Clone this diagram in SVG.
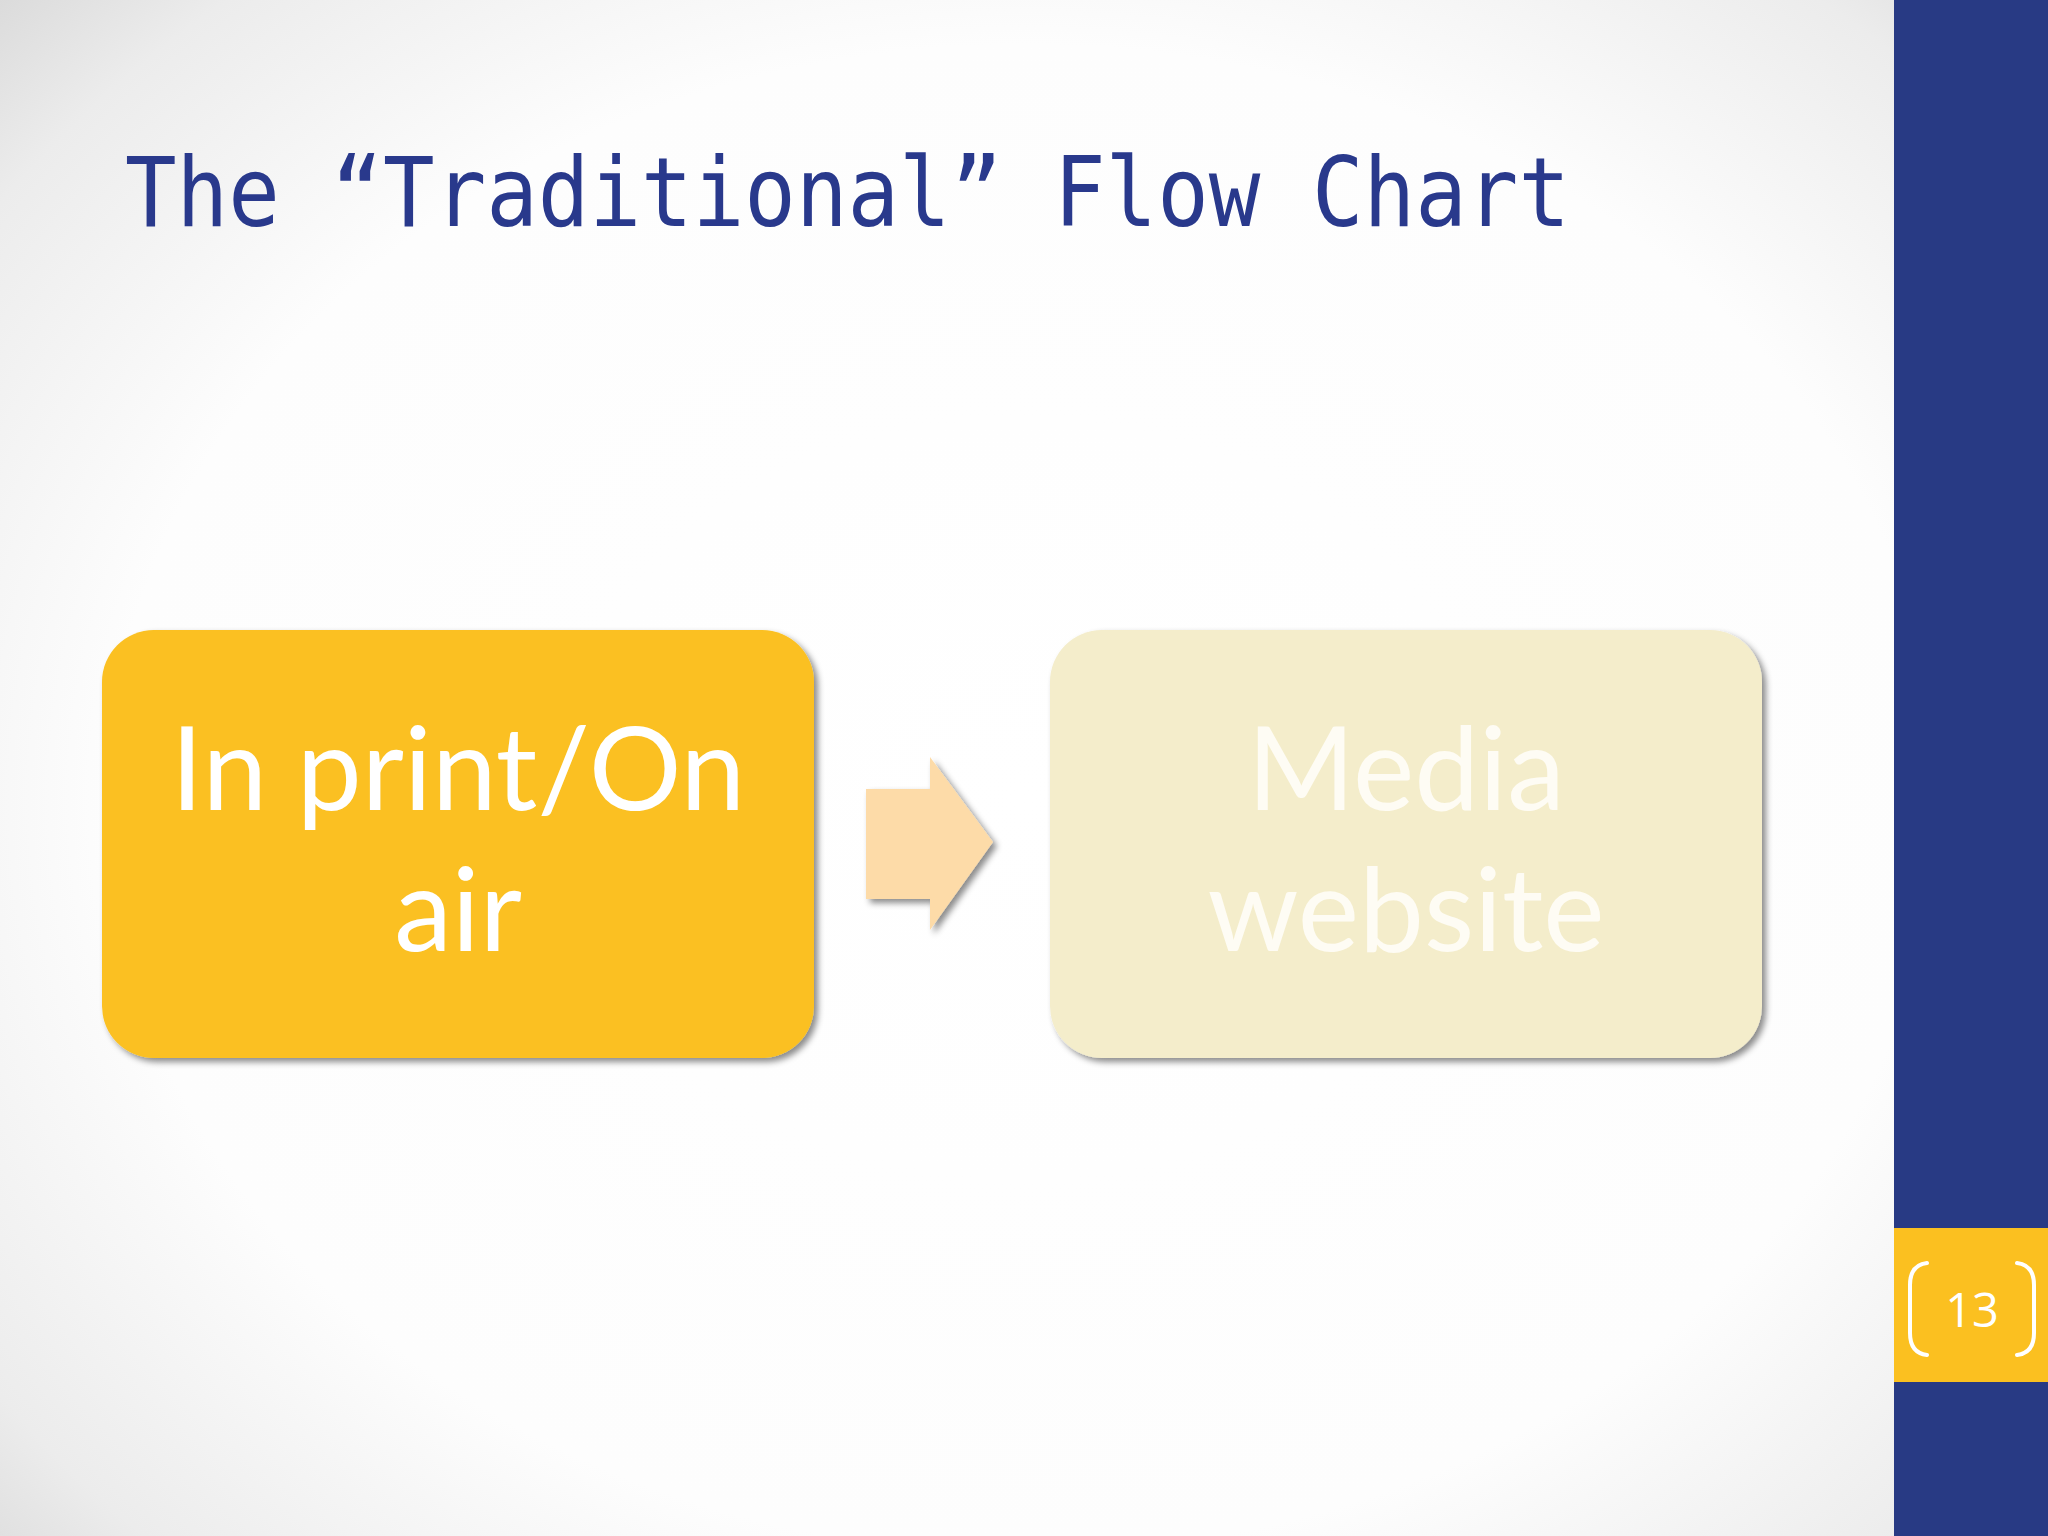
<svg xmlns="http://www.w3.org/2000/svg" width="2048" height="1536" viewBox="0 0 2048 1536">
<defs>
<radialGradient id="bg" cx="0.5" cy="0.52" r="0.72" gradientTransform="translate(0.5 0.52) scale(1 1.1) translate(-0.5 -0.52)">
<stop offset="0" stop-color="#ffffff"/>
<stop offset="0.62" stop-color="#fdfdfd"/>
<stop offset="0.85" stop-color="#ececec"/>
<stop offset="1" stop-color="#d4d4d4"/>
</radialGradient>
<filter id="sh" x="-10%" y="-10%" width="125%" height="125%">
<feDropShadow dx="4" dy="4" stdDeviation="3" flood-color="#000" flood-opacity="0.45"/>
</filter>
<style>
.title{font-family:"DejaVu Sans Mono","Liberation Mono",monospace;font-size:96px;fill:#29398C}
.lbl{font-family:"Lato","Open Sans",sans-serif;font-size:116px;text-anchor:middle}
.num{font-family:"Open Sans","Lato",sans-serif;font-size:47px;fill:#ffffff;text-anchor:middle}
.br{fill:none;stroke:#ffffff;stroke-width:4;stroke-linecap:round}
</style>
</defs>
<rect x="0" y="0" width="2048" height="1536" fill="url(#bg)"/>
<rect x="1894" y="0" width="154" height="1536" fill="#283A84"/>
<rect x="1894" y="1228" width="154" height="154" fill="#FBC020"/>
<path class="br" d="M1927 1263 Q1910 1265 1910 1285 L1910 1333 Q1910 1353 1927 1355"/>
<path class="br" d="M2017 1263 Q2034 1265 2034 1285 L2034 1333 Q2034 1353 2017 1355"/>
<text class="num" x="1972" y="1327">13</text>
<text class="title" x="125" y="226" textLength="1445" lengthAdjust="spacingAndGlyphs">The “Traditional” Flow Chart</text>
<g id="node-print" filter="url(#sh)">
<rect x="102" y="630" width="712" height="428" rx="52" ry="52" fill="#FBC020"/>
<text class="lbl" x="458" y="810" fill="#ffffff">In print/On</text>
<text class="lbl" x="458" y="951" fill="#ffffff">air</text>
</g>
<g id="connectors" filter="url(#sh)">
<polygon points="866,789 930,789 930,757 993,842 930,930 930,899 866,899" fill="#FDDBA8"/>
</g>
<g id="node-media" filter="url(#sh)">
<rect x="1050" y="630" width="712" height="428" rx="52" ry="52" fill="#F4EDCB"/>
<text class="lbl" x="1406" y="810" fill="#FEFCF4">Media</text>
<text class="lbl" x="1406" y="951" fill="#FEFCF4">website</text>
</g>
</svg>
